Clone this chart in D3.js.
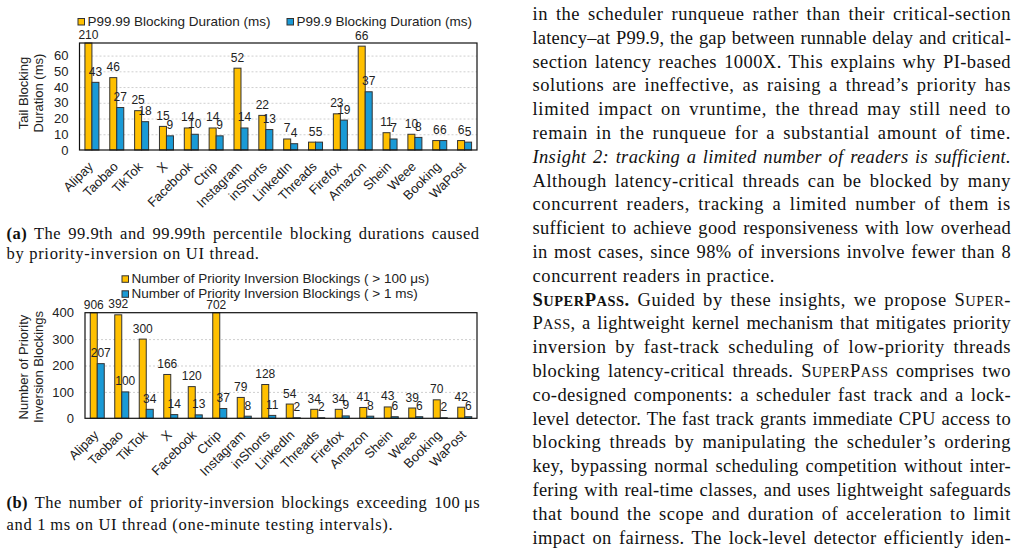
<!DOCTYPE html>
<html><head><meta charset="utf-8">
<script src="https://cdn.jsdelivr.net/npm/d3@7"></script>
<style>html,body{margin:0;padding:0;background:#fff;} svg{display:block;}</style>
</head><body>
<svg id="c" width="1021" height="553"></svg>
<script>
// ---------- data ----------
const apps = ["Alipay","Taobao","TikTok","X","Facebook","Ctrip","Instagram","inShorts","LinkedIn","Threads","Firefox","Amazon","Shein","Weee","Booking","WaPost"];
const p9999 = [210,46,25,15,14,14,52,22,7,5,23,66,11,10,6,6];
const p999  = [43,27,18,9,10,9,14,13,4,5,19,37,7,8,6,5];
const over100us = [906,392,300,166,120,702,79,128,54,34,34,41,43,39,70,42];
const over1ms   = [207,100,34,14,13,37,8,11,2,2,9,8,6,6,2,6];
const ticksA = [0,10,20,30,40,50,60];
const ticksB = [0,100,200,300,400];
const legendA = ["P99.99 Blocking Duration (ms)","P99.9 Blocking Duration (ms)"];
const legendB = ["Number of Priority Inversion Blockings ( > 100 μs)","Number of Priority Inversion Blockings ( > 1 ms)"];
const titleA = ["Tail Blocking","Duration (ms)"];
const titleB = ["Number of Priority","Inversion Blockings"];

const ORANGE = "#FFC000", BLUE = "#1A9AD6";
const SANS = "'Liberation Sans', Arial, sans-serif";
const SERIF = "'Liberation Serif', 'Times New Roman', serif";

const svg = d3.select("#c");
svg.append("rect").attr("width",1021).attr("height",553).attr("fill","#fff");

function chart(o){
  const g = svg.append("g").attr("font-family",SANS).attr("fill","#222");
  const x = d3.scaleBand().domain(apps).range([o.x0,o.x1]);
  const y = d3.scaleLinear().domain([0,o.max]).range([o.y1,o.y0]);
  // grid
  g.append("g").selectAll("line").data(o.ticks.filter(t=>t>0 && t<o.max)).join("line")
    .attr("x1",o.x0).attr("x2",o.x1).attr("y1",d=>y(d)+0.5).attr("y2",d=>y(d)+0.5)
    .attr("stroke","#cfcfcf").attr("stroke-dasharray","2,2");
  // y axis
  const ya = g.append("g").attr("transform",`translate(${o.x0},0)`)
    .call(d3.axisLeft(y).tickValues(o.ticks).tickSize(0).tickPadding(11));
  ya.select(".domain").remove();
  ya.attr("font-family",SANS).attr("font-size",13);
  ya.selectAll("text").attr("fill","#222");
  // x axis
  const xa = g.append("g").attr("transform",`translate(0,${o.y1})`)
    .call(d3.axisBottom(x).tickSize(0));
  xa.select(".domain").remove();
  xa.attr("font-family",SANS).attr("font-size",13);
  xa.selectAll("text").attr("fill","#222").attr("y",0).attr("dy",null)
    .attr("text-anchor","end").attr("transform","translate(2,17.5) rotate(-45)");
  // bars
  const bw = 7;
  [[o.s1,ORANGE,-bw],[o.s2,BLUE,0]].forEach(([vals,col,off])=>{
    g.append("g").selectAll("rect").data(vals).join("rect")
      .attr("x",(d,i)=>x(apps[i])+x.bandwidth()/2+off)
      .attr("y",d=>y(Math.min(d,o.max)))
      .attr("width",bw).attr("height",d=>o.y1-y(Math.min(d,o.max)))
      .attr("fill",col).attr("stroke","#333").attr("stroke-width",1);
  });
  [[o.s1,-bw],[o.s2,0]].forEach(([vals,off])=>{
    g.append("g").selectAll("text").data(vals).join("text")
      .attr("x",(d,i)=>x(apps[i])+x.bandwidth()/2+off+bw/2)
      .attr("y",d=> d>o.max ? o.y0-4 : y(d)-6.5)
      .attr("text-anchor","middle").attr("font-size",12).attr("fill","#222").text(d=>d);
  });
  // frame
  g.append("rect").attr("x",o.x0).attr("y",o.y0).attr("width",o.x1-o.x0).attr("height",o.y1-o.y0)
    .attr("fill","none").attr("stroke","#111").attr("stroke-width",1.2);
  // axis title
  o.title.forEach((t,i)=>{
    g.append("text").attr("transform",`translate(${27.5+15*i},${o.titleCy}) rotate(-90)`)
      .attr("text-anchor","middle").attr("font-size",13).attr("fill","#222").text(t);
  });
  // legend
  o.legend.forEach((L,i)=>{
    const it = o.legPos[i];
    g.append("rect").attr("x",it[0]).attr("y",it[1]-7.5).attr("width",6.5).attr("height",6.5)
      .attr("fill",i===0?ORANGE:BLUE).attr("stroke","#333").attr("stroke-width",1);
    g.append("text").attr("x",it[0]+9.5).attr("y",it[1]).attr("font-size",13.5).attr("fill","#222").text(L);
  });
}

chart({x0:79.5,x1:477,y0:43,y1:150,max:68,ticks:ticksA,s1:p9999,s2:p999,title:titleA,titleCy:93,
  legend:legendA,legPos:[[78,26],[287,26]]});
chart({x0:85,x1:477,y0:312.7,y1:418.3,max:400,ticks:ticksB,s1:over100us,s2:over1ms,title:titleB,titleCy:367,
  legend:legendB,legPos:[[122,283.3],[122,298.3]]});

// ---------- text ----------
const SC = t=>({t,sc:1});
function line(parent,x,yb,segs,size,ls,target,opts={}){
  const tx = parent.append("text").attr("x",x).attr("y",yb).attr("font-family",SERIF)
    .attr("font-size",size).attr("fill","#111").style("white-space","pre");
  if(opts.italic) tx.attr("font-style","italic");
  segs.forEach(s=>{
    if(typeof s==="string") s={t:s};
    const ts = tx.append("tspan").text(s.t);
    if(s.b) ts.attr("font-weight","bold");
    if(s.sc) ts.attr("font-size",size*0.78);
  });
  const nch = tx.text().length;
  if(target){
    const w0 = tx.node().getComputedTextLength();
    const extra = target - w0;
    const l = Math.max(0, Math.min(ls, extra*0.6/nch));
    tx.style("letter-spacing",l+"px");
    const w1 = tx.node().getComputedTextLength();
    const n = (tx.text().match(/ /g)||[]).length;
    if(n>0) tx.style("word-spacing",((target-w1)/n)+"px");
  } else {
    tx.style("letter-spacing",ls+"px");
  }
  return tx;
}
const col = svg.append("g");
const rightLines = [
  [["in the scheduler runqueue rather than their critical-section"]],
  [["latency–at P99.9, the gap between runnable delay and critical-"]],
  [["section latency reaches 1000X. This explains why PI-based"]],
  [["solutions are ineffective, as raising a thread’s priority has"]],
  [["limited impact on vruntime, the thread may still need to"]],
  [["remain in the runqueue for a substantial amount of time."]],
  [["Insight 2: tracking a limited number of readers is sufficient."],{italic:1}],
  [["Although latency-critical threads can be blocked by many"]],
  [["concurrent readers, tracking a limited number of them is"]],
  [["sufficient to achieve good responsiveness with low overhead"]],
  [["in most cases, since 98% of inversions involve fewer than 8"]],
  [["concurrent readers in practice."],{last:1}],
  [[{t:"S",b:1},{t:"UPER",b:1,sc:1},{t:"P",b:1},{t:"ASS",b:1,sc:1},{t:".",b:1}," Guided by these insights, we propose S",SC("UPER"),"-"]],
  [["P",SC("ASS"),", a lightweight kernel mechanism that mitigates priority"]],
  [["inversion by fast-track scheduling of low-priority threads"]],
  [["blocking latency-critical threads. S",SC("UPER"),"P",SC("ASS")," comprises two"]],
  [["co-designed components: a scheduler fast track and a lock-"]],
  [["level detector. The fast track grants immediate CPU access to"]],
  [["blocking threads by manipulating the scheduler’s ordering"]],
  [["key, bypassing normal scheduling competition without inter-"]],
  [["fering with real-time classes, and uses lightweight safeguards"]],
  [["that bound the scope and duration of acceleration to limit"]],
  [["impact on fairness. The lock-level detector efficiently iden-"]]
];
rightLines.forEach((L,i)=>{
  const o = L[1]||{};
  line(col,532.5,20+i*23.8,L[0],18.5,o.last?0.6:0.8,o.last?null:478.5,o);
});
// captions
line(col,6.5,238.5,[{t:"(a)",b:1}," The 99.9th and 99.99th percentile blocking durations caused"],16.5,0.7,473);
line(col,6.5,258.5,["by priority-inversion on UI thread."],16.5,0.7,null);
line(col,6.5,508.3,[{t:"(b)",b:1}," The number of priority-inversion blockings exceeding 100\u2009μs"],16.5,0.7,473.5);
line(col,6.5,530,["and 1\u2009ms on UI thread (one-minute testing intervals)."],16.5,0.7,null);
</script>
</body></html>
